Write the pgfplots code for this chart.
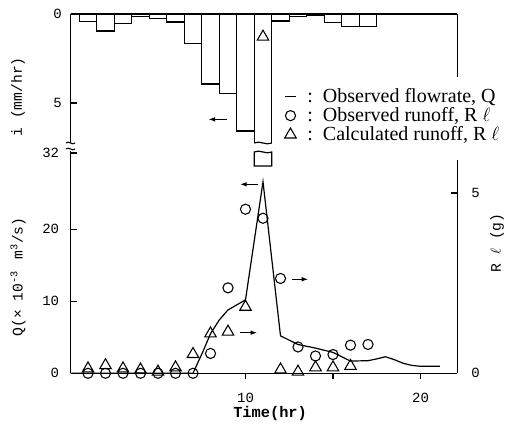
\documentclass[border=0pt]{standalone}
\usepackage{fontspec}
\setmainfont{Liberation Serif}
\setmonofont{Liberation Mono}
\usepackage{pgfplots}
\pgfplotsset{compat=1.18}
\usetikzlibrary{arrows.meta}

\newcommand{\tfont}{\ttfamily\fontsize{10.5}{12}\selectfont}
\newcommand{\lfont}{\ttfamily\fontsize{11}{13}\selectfont}

\begin{document}
\begin{tikzpicture}[x=0.75pt,y=0.75pt]
\useasboundingbox (0,0) rectangle (516,427);
\pgfplotsset{
  every axis/.append style={
    scale only axis, width=290.06pt, xmin=0, xmax=22.1,
    /pgf/number format/assume math mode=true,
    ticklabel style={font=\tfont},
    axis line style={line width=1pt},
    tick style={line width=0.8pt, black},
    major tick length=4.5pt,
    tick align=inside,
  },
}

% rainfall intensity (upper panel, reversed)
\begin{axis}[
  at={(52.875pt,213pt)}, anchor=south west, height=96.75pt,
  ymin=0, ymax=7.247, y dir=reverse,
  axis x line*=top, axis y line*=left,
  xtick=\empty, ytick={0,5},
  yticklabel style={xshift=-3pt},
]
\addplot[ybar interval, fill=none, draw=black, line width=0.9pt] coordinates {
  (0.5,0.43) (1.5,0.96) (2.5,0.52) (3.5,0.12) (4.5,0.25) (5.5,0.45)
  (6.5,1.65) (7.5,3.93) (8.5,4.46) (9.5,6.57) (10.5,9) (11.5,0.39)
  (12.5,0.15) (13.5,0.08) (14.5,0.47) (15.5,0.71) (16.5,0.71) (17.5,0.71)
};
\draw[-{Latex[length=5pt,width=3.5pt]}, line width=0.9pt] (axis cs:8.93,5.92) -- (axis cs:7.88,5.92);
\draw[line width=1pt] (axis cs:22.1,0) -- (axis cs:22.1,3.54);
\end{axis}

% flowrate Q (lower panel, left axis)
\begin{axis}[
  at={(52.875pt,40.275pt)}, anchor=south west, height=166.725pt,
  ymin=0, ymax=30.875,
  axis x line*=bottom, axis y line*=left,
  xtick={10,15,20}, xticklabels={10,,20},
  xtick style={yshift=-4.5pt},
  xticklabel style={yshift=-11.5pt},
  ytick={0,10,20}, extra y ticks={30.6}, extra y tick labels={32},
  yticklabel style={xshift=-5pt},
  xlabel={Time(hr)},
  xlabel style={at={(axis description cs:0.516,-0.182)}, anchor=center,
    font=\ttfamily\bfseries\fontsize{11.5}{13}\selectfont},
]
\addplot[black, line width=0.9pt] coordinates {
  (0,0) (7,0) (7.6,3.2) (8,5.5) (8.5,7.4) (9,8.8) (10,10.2) (11,26.6)
  (12,5.2) (13,4.0) (14,3.5) (15,2.9) (16,1.7) (17,1.75) (17.5,2.0)
  (18,2.3) (18.5,1.9) (19,1.4) (19.5,1.1) (20,0.97) (21.1,0.97)
};
\draw[-{Latex[length=5pt,width=3.5pt]}, line width=0.9pt] (axis cs:10.73,26.25) -- (axis cs:9.69,26.25);
\draw[-{Latex[length=5pt,width=3.5pt]}, line width=0.9pt] (axis cs:12.64,13.06) -- (axis cs:13.59,13.06);
\draw[-{Latex[length=5pt,width=3.5pt]}, line width=0.9pt] (axis cs:9.69,5.64) -- (axis cs:10.67,5.64);
\end{axis}

% runoff R (right axis, full height)
\begin{axis}[
  at={(52.875pt,40.275pt)}, anchor=south west, height=269.475pt,
  ymin=0, ymax=9.964, clip=false,
  axis x line=none, axis y line*=right,
  axis line style={draw=none},
  xtick=\empty, ytick={0,5},
  yticklabel style={xshift=7pt},
  legend image code/.code={\draw[mark repeat=2,mark phase=2,#1] plot coordinates {(0cm,0cm) (0.15cm,0cm) (0.3cm,0cm)};},
  legend style={at={(axis description cs:0.552,0.795)}, anchor=north west,
    draw=none, fill=none, inner sep=0pt, row sep=1.2pt,
    font=\fontsize{15}{16}\selectfont,
    nodes={inner sep=0.5pt}},
  legend cell align=left,
]
\addlegendimage{black, line width=0.8pt}
\addlegendentry{\enspace:\enspace Observed flowrate, Q}
\addplot[only marks, mark=o, mark size=3.8pt, line width=0.8pt, black] coordinates {
  (1,0) (2,0) (3,0) (4,0) (5,0) (6,0) (7,0) (8,0.55) (9,2.37) (10,4.55)
  (11,4.3) (12,2.63) (13,0.73) (14,0.48) (15,0.52) (16,0.78) (17,0.8)
};
\addlegendentry{\enspace:\enspace Observed runoff, R $\ell$}
\addplot[only marks, mark=triangle, mark size=5pt, line width=0.8pt, black] coordinates {
  (1,0.13) (2,0.22) (3,0.13) (4,0.1) (5,0.04) (6,0.16) (7,0.53) (8,1.1)
  (9,1.15) (10,1.84) (11,9.33) (12,0.1) (13,0.04) (14,0.16) (15,0.16) (16,0.2)
};
\addlegendentry{\enspace:\enspace Calculated runoff, R $\ell$}
\draw[line width=1pt] (rel axis cs:1,1) -- (rel axis cs:1,0.8247);
\draw[line width=1pt] (rel axis cs:1,0.5937) -- (rel axis cs:1,0);
\end{axis}

% axis break marks
\draw[line width=0.8pt] (66,284) .. controls (69,287) and (72,281) .. (75,284);
\draw[line width=0.8pt] (66,278) .. controls (69,281) and (72,275) .. (75,278);
\draw[line width=0.9pt] (254.25,284) .. controls (260,287) and (266,281) .. (271.75,284);
\draw[line width=0.9pt] (254.25,275) .. controls (260,278) and (266,272) .. (271.75,275)
  -- (271.75,261) -- (254.25,261) -- cycle;

% axis titles
\node[rotate=90, font=\lfont] at (18,330) {i (mm/hr)};
\node[rotate=90, font=\lfont] at (18,150) {Q(\texttimes{} 10\textsuperscript{-3}\, m\textsuperscript{3}/s)};
\node[rotate=90, font=\lfont] at (497,184) {R $\ell$ (g)};
\end{tikzpicture}
\end{document}
